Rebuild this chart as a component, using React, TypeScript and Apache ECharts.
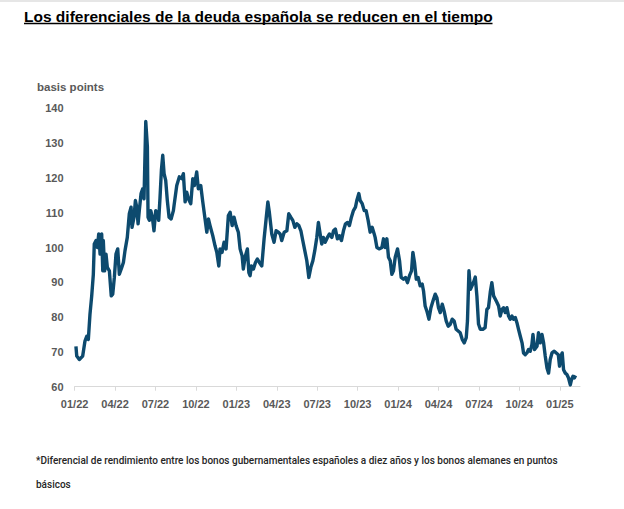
import React, { useEffect, useRef } from "react";
import * as echarts from "echarts";

const TITLE = "Los diferenciales de la deuda española se reducen en el tiempo";
const Y_AXIS_NAME = "basis points";
const FOOTNOTE_1 =
  "*Diferencial de rendimiento entre los bonos gubernamentales españoles a diez años y los bonos alemanes en puntos";
const FOOTNOTE_2 = "básicos";

// quarter starts, in months since January 2022
const tickMonths = [0, 3, 6, 9, 12, 15, 18, 21, 24, 27, 30, 33, 36];
const tickLabels = ["01/22", "04/22", "07/22", "10/22", "01/23", "04/23", "07/23", "10/23", "01/24", "04/24", "07/24", "10/24", "01/25"];

// time of each observation, in months since 1 January 2022
const monthsSinceJan2022 = [
  0.1, 0.16, 0.35, 0.6, 0.77, 0.9, 1.02, 1.14, 1.27, 1.39, 1.46, 1.59, 1.69, 1.79, 1.89, 2.01, 2.09, 2.13, 2.23, 2.33,
  2.43, 2.58, 2.72, 2.83, 2.95, 3.07, 3.2, 3.32, 3.5, 3.62, 3.74, 3.91, 4.06, 4.19, 4.26, 4.41, 4.51, 4.61, 4.71, 4.8,
  4.93, 5.06, 5.15, 5.28, 5.4, 5.45, 5.55, 5.65, 5.77, 5.89, 6.02, 6.14, 6.24, 6.34, 6.44, 6.54, 6.64, 6.76, 6.88, 7.01,
  7.16, 7.33, 7.38, 7.58, 7.77, 7.95, 8.07, 8.2, 8.32, 8.44, 8.62, 8.77, 8.89, 9.06, 9.18, 9.36, 9.51, 9.68, 9.81, 9.93,
  10.05, 10.25, 10.42, 10.55, 10.7, 10.79, 10.94, 11.09, 11.24, 11.41, 11.54, 11.69, 11.83, 11.98, 12.15, 12.28, 12.43, 12.52, 12.67, 12.82,
  12.93, 13.02, 13.12, 13.27, 13.42, 13.56, 13.71, 13.89, 14.06, 14.21, 14.34, 14.45, 14.63, 14.8, 14.95, 15.12, 15.25, 15.37, 15.55, 15.75,
  15.89, 16.04, 16.19, 16.34, 16.49, 16.64, 16.79, 16.93, 17.08, 17.23, 17.38, 17.53, 17.68, 17.82, 17.97, 18.09, 18.22, 18.34, 18.46, 18.59,
  18.76, 18.91, 19.09, 19.21, 19.35, 19.5, 19.65, 19.8, 19.95, 20.1, 20.25, 20.39, 20.54, 20.69, 20.84, 20.94, 21.09, 21.19, 21.34, 21.49,
  21.63, 21.78, 21.93, 22.08, 22.23, 22.3, 22.43, 22.62, 22.8, 22.92, 23.04, 23.17, 23.29, 23.42, 23.54, 23.66, 23.79, 23.96, 24.11, 24.23,
  24.4, 24.55, 24.7, 24.85, 25.0, 25.1, 25.22, 25.35, 25.49, 25.64, 25.79, 25.89, 26.01, 26.14, 26.29, 26.44, 26.59, 26.76, 26.88, 27.0,
  27.13, 27.28, 27.42, 27.57, 27.72, 27.87, 28.02, 28.16, 28.31, 28.46, 28.61, 28.76, 28.91, 29.06, 29.15, 29.26, 29.37, 29.6, 29.73, 29.85,
  29.97, 30.1, 30.29, 30.46, 30.59, 30.71, 30.84, 30.96, 31.09, 31.22, 31.34, 31.46, 31.58, 31.71, 31.83, 31.95, 32.08, 32.2, 32.32, 32.45,
  32.57, 32.7, 32.82, 32.94, 33.07, 33.2, 33.31, 33.44, 33.56, 33.68, 33.81, 33.93, 34.01, 34.13, 34.31, 34.42, 34.55, 34.68, 34.8, 34.92,
  35.05, 35.17, 35.29, 35.42, 35.59, 35.74, 35.89, 35.98, 36.09, 36.18, 36.28, 36.41, 36.53, 36.65, 36.78, 36.87, 36.98, 37.08, 37.17,
];

// 10-year Spain–Germany yield spread, basis points
const spreadBp = [
  71.6, 68.8, 67.8, 68.8, 73.1, 74.5, 73.6, 80.8, 86.1, 92.3, 101, 102, 100, 103.9, 98.1, 103.9, 93.3, 102, 93.3, 98.1,
  94.3, 93.3, 86.1, 86.6, 91.4, 98.1, 99.6, 92.3, 94.3, 95.7, 99.1, 102.9, 109.7, 111.6, 105.8, 108.7, 113.5, 111.6, 106.8, 110.6,
  115.5, 116.9, 114, 136.2, 129, 108.7, 107.8, 110.6, 108.7, 104.8, 110.6, 109.7, 107.8, 114.5, 122.2, 126.5, 121.2, 119.3, 113.5, 108.7,
  108.2, 110.6, 112.1, 117.8, 120.3, 119.8, 121.2, 113.1, 115.9, 114, 112.6, 119.8, 117.8, 121.7, 116.9, 117.8, 113.1, 108.2, 104.4, 108.2,
  106.3, 103.4, 100.5, 98.6, 94.7, 99.6, 98.6, 101.5, 99.6, 109.2, 110.1, 106.3, 108.7, 106.3, 104.4, 99.6, 97.6, 93.8, 97.6, 99.6,
  92.8, 91.9, 94.7, 93.8, 95.7, 96.7, 95.7, 94.7, 102.5, 108.2, 113.1, 110.1, 103.9, 101.5, 104.8, 104.4, 103.9, 102, 104.4, 104.8,
  109.7, 108.7, 107.8, 105.8, 106.8, 106.3, 104.8, 102, 99.1, 96.2, 91.4, 94.3, 96.2, 99.1, 102.9, 107.2, 103.9, 101, 102.9, 101.5,
  102.9, 103.9, 102.9, 104.8, 105.3, 102.5, 103.4, 102, 104.8, 106.8, 107.2, 106.3, 108.7, 110.6, 111.6, 113.5, 115.5, 113.5, 112.6, 110.6,
  110.6, 107.8, 104.4, 105.8, 103.9, 102.9, 100, 99.6, 100, 102.5, 100, 102.5, 97.2, 96.2, 92.3, 93.3, 97.2, 99.6, 96.2, 91.4,
  90.9, 91.4, 89.9, 91.9, 93.3, 98.6, 95.7, 90.9, 91.4, 89, 89.5, 87.5, 83.2, 81.7, 79.4, 82.7, 84.6, 86.6, 85.6, 82.7,
  81.3, 83.7, 81.7, 78.9, 77.4, 77.9, 79.4, 78.9, 76.5, 76, 75.5, 73.6, 72.6, 74.1, 78.9, 93.3, 88, 90, 91.5, 86,
  78, 76.5, 76.5, 77, 82.2, 82.7, 87.1, 89.9, 86.1, 85.1, 84.2, 83.2, 80.3, 82.2, 82.7, 81.3, 82.7, 80.3, 79.4, 80.3,
  79.4, 79.9, 78.4, 76.5, 74.5, 72.6, 69.7, 69.2, 69.7, 70.7, 70.2, 72.1, 75, 70.7, 71.6, 75.5, 72.6, 75, 72.6, 68.8,
  65.4, 63.9, 67.8, 69.7, 70.2, 69.7, 69.2, 65.9, 68.8, 69.7, 64.9, 63.9, 63.5, 62.5, 60.5, 62, 63, 62.5, 63.2,
];

const LINE_COLOR = "#0d4a6e";
const AXIS_TEXT = "#595959";

export default function App() {
  const ref = useRef<HTMLDivElement>(null);

  useEffect(() => {
    if (!ref.current) return;
    const chart = echarts.init(ref.current, undefined, { renderer: "svg" });
    const data = monthsSinceJan2022.map((m, i) => [m, spreadBp[i]]);

    chart.setOption({
      animation: false,
      backgroundColor: "#ffffff",
      grid: { left: 74.6, right: 44, top: 108.3, bottom: 122.3, containLabel: false },
      xAxis: {
        type: "value",
        min: 0,
        max: 37.5,
        splitLine: { show: false },
        axisLine: { show: true, lineStyle: { color: "#d9d9d9", width: 1 } },
        axisTick: { show: true, customValues: tickMonths, length: 4, lineStyle: { color: "#d9d9d9" } },
        axisLabel: {
          customValues: tickMonths,
          formatter: (v: number) => {
            const idx = tickMonths.findIndex((t) => Math.abs(t - v) < 1e-6);
            return idx >= 0 ? tickLabels[idx] : "";
          },
          color: AXIS_TEXT,
          fontSize: 11,
          fontFamily: "Liberation Sans",
          fontWeight: "bold",
          margin: 12,
        },
      },
      yAxis: {
        type: "value",
        min: 60,
        max: 140,
        interval: 10,
        splitLine: { show: false },
        axisLine: { show: false },
        axisTick: { show: false },
        axisLabel: {
          color: AXIS_TEXT,
          fontSize: 11,
          fontFamily: "Liberation Sans",
          fontWeight: "bold",
          margin: 11,
        },
      },
      series: [
        {
          type: "line",
          data,
          showSymbol: false,
          symbol: "none",
          lineStyle: { color: LINE_COLOR, width: 3.4, join: "round" },
          itemStyle: { color: LINE_COLOR },
        },
      ],
      graphic: [
        {
          type: "rect",
          shape: { x: 0, y: 0, width: 624, height: 2 },
          style: { fill: "#e6e6e6" },
        },
        {
          type: "text",
          x: 24,
          y: 16,
          style: {
            text: TITLE,
            font: 'bold 15.5px "Liberation Sans"',
            fill: "#000000",
            align: "left",
            verticalAlign: "middle",
          },
        },
        {
          type: "line",
          shape: { x1: 24, y1: 23.5, x2: 492.5, y2: 23.5 },
          style: { stroke: "#000000", lineWidth: 1.5 },
        },
        {
          type: "text",
          x: 37,
          y: 86.5,
          style: {
            text: Y_AXIS_NAME,
            font: 'bold 11.5px "Liberation Sans"',
            fill: AXIS_TEXT,
            align: "left",
            verticalAlign: "middle",
          },
        },
        {
          type: "text",
          x: 36,
          y: 460,
          style: {
            text: FOOTNOTE_1,
            font: '500 10px Roboto',
            fill: "#262626",
            align: "left",
            verticalAlign: "middle",
          },
        },
        {
          type: "text",
          x: 36,
          y: 484,
          style: {
            text: FOOTNOTE_2,
            font: '500 10px Roboto',
            fill: "#262626",
            align: "left",
            verticalAlign: "middle",
          },
        },
      ],
    });

    return () => chart.dispose();
  }, []);

  return (
    <div
      ref={ref}
      style={{ position: "fixed", left: 0, top: 0, width: 624, height: 509, background: "#fff" }}
    />
  );
}
